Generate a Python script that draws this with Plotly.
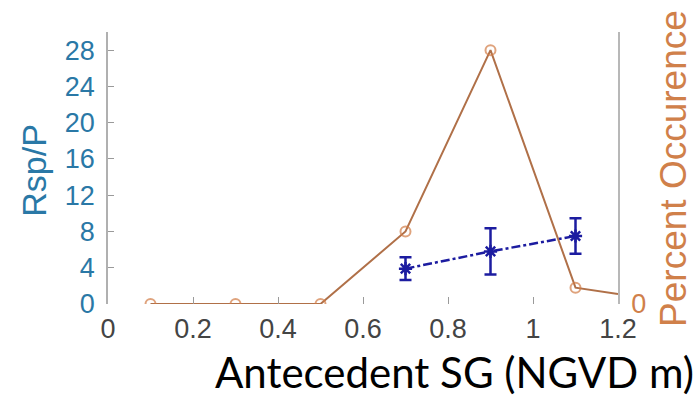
import plotly.graph_objects as go

# Percent occurrence of antecedent stage (right axis)
occ_x = [0.1, 0.3, 0.5, 0.7, 0.9, 1.1, 1.2]
occ_pct = [0, 0, 0, 8, 28, 1.8, 1.1]

# Rsp/P mean and spread per stage bin (left axis)
rsp_x = [0.7, 0.9, 1.1]
rsp_val = [3.9, 5.8, 7.5]
rsp_err = [1.25, 2.55, 1.95]

x_ticks = [0, 0.2, 0.4, 0.6, 0.8, 1.0, 1.2]
x_ticktext = ["0", "0.2", "0.4", "0.6", "0.8", "1", "1.2"]
y_ticks = [0, 4, 8, 12, 16, 20, 24, 28]

BLUE_AX = "#2a78a6"
ORANGE_AX = "#d0804a"
ORANGE_LINE = "#b07048"
ORANGE_MK = "#d27c46"
DARK_BLUE = "#1c1ca0"

fig = go.Figure()

fig.add_trace(go.Scatter(
    x=rsp_x, y=rsp_val,
    mode="lines+markers",
    line=dict(color=DARK_BLUE, width=2.5, dash="dashdot"),
    marker=dict(symbol="asterisk-open", size=11, line=dict(color=DARK_BLUE, width=2.5)),
    error_y=dict(type="data", array=rsp_err, visible=True,
                 color=DARK_BLUE, thickness=2.5, width=6),
    yaxis="y", showlegend=False,
))

fig.add_trace(go.Scatter(
    x=occ_x, y=occ_pct,
    mode="lines+markers",
    line=dict(color=ORANGE_LINE, width=2),
    marker=dict(symbol="circle-open", size=[10] * (len(occ_x) - 1) + [0],
                color=ORANGE_MK, line=dict(color=ORANGE_MK, width=2)),
    yaxis="y2", showlegend=False,
))

fig.update_layout(
    width=697, height=409, autosize=False,
    margin=dict(l=108, r=79, t=32, b=105),
    paper_bgcolor="white", plot_bgcolor="white",
    font=dict(family="Liberation Sans, Arial, sans-serif"),
    xaxis=dict(
        range=[0, 1.2], tickvals=x_ticks, ticktext=x_ticktext,
        ticks="inside", ticklen=7, tickcolor="#9a9a9a", tickwidth=1,
        showline=False, zeroline=False, showgrid=False,
        tickfont=dict(size=27, color="#444444"), ticklabelstandoff=6,
    ),
    yaxis=dict(
        range=[0, 30], tickvals=y_ticks,
        ticks="inside", ticklen=6, tickcolor="#9a9a9a", tickwidth=1,
        showline=True, linecolor="#b0b0b0", linewidth=1.5,
        zeroline=False, showgrid=False,
        tickfont=dict(size=27, color=BLUE_AX), ticklabelstandoff=6,
    ),
    yaxis2=dict(
        range=[0, 30], tickvals=[0], overlaying="y", side="right",
        ticks="", showline=True, linecolor="#b8b8b8", linewidth=1.5,
        zeroline=False, showgrid=False,
        tickfont=dict(size=27, color=ORANGE_AX), ticklabelstandoff=6,
    ),
    annotations=[
        dict(text="Rsp/P", xref="paper", yref="paper",
             x=-0.145, y=0.49, xanchor="center", yanchor="middle",
             textangle=-90, showarrow=False,
             font=dict(size=34, color=BLUE_AX)),
        dict(text="Percent Occurence", xref="paper", yref="paper",
             x=1.11, y=0.497, xanchor="center", yanchor="middle",
             textangle=-90, showarrow=False,
             font=dict(size=37, color=ORANGE_AX)),
        dict(text="Antecedent SG (NGVD m)", xref="paper", yref="paper",
             x=0.68, y=-0.25, xanchor="center", yanchor="middle",
             showarrow=False,
             font=dict(family="Lato, Open Sans, sans-serif", size=42, color="black")),
    ],
)

fig.write_html("out.html")
